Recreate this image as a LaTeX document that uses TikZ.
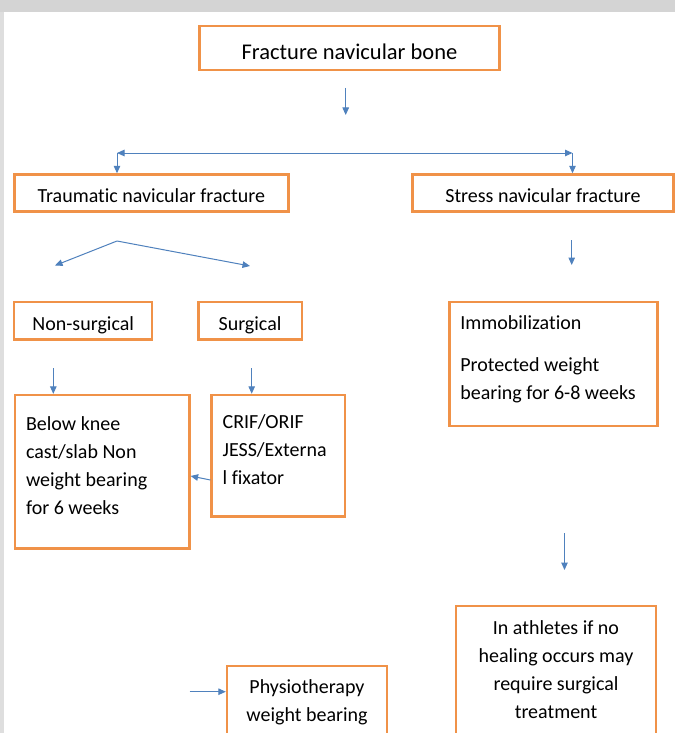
\documentclass[tikz,border=0pt]{standalone}
\usepackage{fontspec}
\setmainfont{Carlito}[Ligatures=NoCommon]
\usetikzlibrary{arrows.meta}
\definecolor{boxorange}{RGB}{240,146,72}
\definecolor{arrowblue}{RGB}{79,129,189}
\definecolor{framegray}{RGB}{212,212,212}
\definecolor{sidegray}{RGB}{222,222,222}

\begin{document}
\begin{tikzpicture}[
    x=1pt, y=-1pt, >={Triangle[length=7.5pt,width=6.5pt]},
    stage/.style={draw=boxorange, line width=2.4pt, rectangle, inner sep=0pt, align=center, font=\fontsize{20}{28}\selectfont},
    note/.style={stage, align=flush left, inner xsep=11pt},
    link/.style={arrowblue, line width=1pt, ->}
]
    % Page and frame
    \useasboundingbox (0,0) rectangle (675,733);
    \clip (0,0) rectangle (675,733);
    \fill[white] (0,0) rectangle (675,733);
    \fill[framegray] (0,0) rectangle (675,12);
    \fill[sidegray] (0,12) rectangle (4,733);

    % Level 1: the fracture
    \node[stage, minimum width=300pt, minimum height=44pt, text height=24pt, text depth=0pt, font=\fontsize{22.5}{28}\selectfont] (root) at (349.5,48) {Fracture navicular bone};

    % Level 2: the two kinds
    \node[stage, minimum width=274pt, minimum height=37pt, text height=19.4pt, text depth=0pt] (trau) at (151.3,193) {Traumatic navicular fracture};
    \node[stage, minimum width=261pt, minimum height=37pt, text height=19.4pt, text depth=0pt] (stress) at (543,193) {Stress navicular fracture};

    % Level 3: treatment choice
    \node[stage, minimum width=138pt, minimum height=37.6pt, text height=19pt, text depth=0pt] (nons) at (83.2,320.5) {Non-surgical};
    \node[stage, minimum width=103.4pt, minimum height=37.6pt, text height=19pt, text depth=0pt] (surg) at (250,320.5) {Surgical};
    \node[note, text width=186pt, minimum height=124pt, text height=0pt, text depth=68.8pt] (immob) at (553.3,363.7) {
        Immobilization\\[14pt]
        Protected weight\\
        bearing for 6-8 weeks
    };

    % Level 4: procedures
    \node[note, text width=152.3pt, minimum height=153.3pt, text height=0pt, text depth=83.4pt] (below) at (102.2,471.7) {
        Below knee\\
        cast/slab Non\\
        weight bearing\\
        for 6 weeks
    };
    \node[note, text width=111.3pt, minimum height=121.7pt, text height=0pt, text depth=55.6pt] (crif) at (278.3,455.8) {
        CRIF/ORIF\\
        JESS/Externa\\
        l fixator
    };

    % Level 5: follow-up
    \node[stage, minimum width=200.5pt, minimum height=133pt, text height=91pt, text depth=0pt] (athl) at (556,672.5) {
        In athletes if no\\
        healing occurs may\\
        require surgical\\
        treatment
    };
    \node[stage, minimum width=160pt, minimum height=76pt, text height=35.4pt, text depth=0pt] (physio) at (307,704) {
        Physiotherapy\\
        weight bearing
    };

    % Arrows
    \coordinate (rootout) at (345.7,88);
    \coordinate (rootin) at (345.7,115);
    \draw[link] (rootout) -- (rootin);

    \coordinate (splitl) at (117,153);
    \coordinate (splitr) at (572.5,153);
    \draw[link, <->] (splitl) -- (splitr);
    \draw[link] (splitl) -- (splitl |- trau.north);
    \draw[link] (splitr) -- (splitr |- stress.north);

    \coordinate (fork) at (117,241);
    \coordinate (forkl) at (55,265.5);
    \coordinate (forkr) at (250,266);
    \draw[link] (fork) -- (forkl);
    \draw[link] (fork) -- (forkr);

    \coordinate (stressout) at (571.7,240);
    \coordinate (stressin) at (571.7,265);
    \draw[link] (stressout) -- (stressin);

    \coordinate (nonsout) at (53.3,368);
    \coordinate (surgout) at (251.7,368);
    \draw[link] (nonsout) -- (nonsout |- below.north);
    \draw[link] (surgout) -- (surgout |- crif.north);

    \draw[link] (crif.west |- 0,480) -- (below.east |- 0,476);

    \coordinate (immout) at (564.5,533);
    \coordinate (immin) at (564.5,570);
    \draw[link] (immout) -- (immin);

    \coordinate (physin) at (189.5,691.7);
    \draw[link] (physin) -- (physin -| physio.west);

\end{tikzpicture}
\end{document}
